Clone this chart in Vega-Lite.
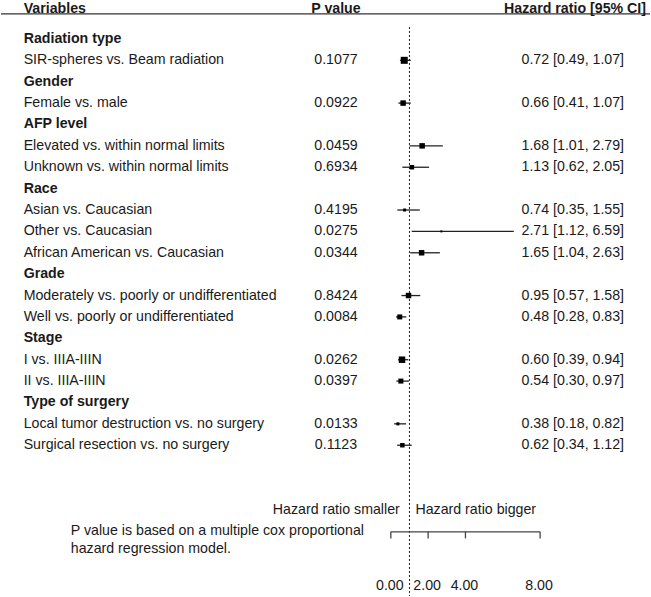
{
  "$schema": "https://vega.github.io/schema/vega-lite/v6.json",
  "width": 651,
  "height": 597,
  "autosize": {"type": "fit", "contains": "padding"},
  "padding": 0,
  "background": "white",
  "config": {
    "view": {"stroke": null},
    "text": {"font": "Liberation Sans", "fontSize": 14.2, "color": "#1a1a1a", "baseline": "middle"}
  },
  "datasets": {
    "rows": [
      {"row": 1, "kind": "group", "label": "Radiation type"},
      {"row": 2, "kind": "item", "label": "SIR-spheres vs. Beam radiation", "p": "0.1077", "hr": 0.72, "lo": 0.49, "hi": 1.07, "ci": "0.72 [0.49, 1.07]", "weight": 49},
      {"row": 3, "kind": "group", "label": "Gender"},
      {"row": 4, "kind": "item", "label": "Female vs. male", "p": "0.0922", "hr": 0.66, "lo": 0.41, "hi": 1.07, "ci": "0.66 [0.41, 1.07]", "weight": 30},
      {"row": 5, "kind": "group", "label": "AFP level"},
      {"row": 6, "kind": "item", "label": "Elevated vs. within normal limits", "p": "0.0459", "hr": 1.68, "lo": 1.01, "hi": 2.79, "ci": "1.68 [1.01, 2.79]", "weight": 30},
      {"row": 7, "kind": "item", "label": "Unknown vs. within normal limits", "p": "0.6934", "hr": 1.13, "lo": 0.62, "hi": 2.05, "ci": "1.13 [0.62, 2.05]", "weight": 20},
      {"row": 8, "kind": "group", "label": "Race"},
      {"row": 9, "kind": "item", "label": "Asian vs. Caucasian", "p": "0.4195", "hr": 0.74, "lo": 0.35, "hi": 1.55, "ci": "0.74 [0.35, 1.55]", "weight": 9},
      {"row": 10, "kind": "item", "label": "Other vs. Caucasian", "p": "0.0275", "hr": 2.71, "lo": 1.12, "hi": 6.59, "ci": "2.71 [1.12, 6.59]", "weight": 4},
      {"row": 11, "kind": "item", "label": "African American vs. Caucasian", "p": "0.0344", "hr": 1.65, "lo": 1.04, "hi": 2.63, "ci": "1.65 [1.04, 2.63]", "weight": 30},
      {"row": 12, "kind": "group", "label": "Grade"},
      {"row": 13, "kind": "item", "label": "Moderately vs. poorly or undifferentiated", "p": "0.8424", "hr": 0.95, "lo": 0.57, "hi": 1.58, "ci": "0.95 [0.57, 1.58]", "weight": 30},
      {"row": 14, "kind": "item", "label": "Well vs. poorly or undifferentiated", "p": "0.0084", "hr": 0.48, "lo": 0.28, "hi": 0.83, "ci": "0.48 [0.28, 0.83]", "weight": 25},
      {"row": 15, "kind": "group", "label": "Stage"},
      {"row": 16, "kind": "item", "label": "I vs. IIIA-IIIN", "p": "0.0262", "hr": 0.60, "lo": 0.39, "hi": 0.94, "ci": "0.60 [0.39, 0.94]", "weight": 42},
      {"row": 17, "kind": "item", "label": "II vs. IIIA-IIIN", "p": "0.0397", "hr": 0.54, "lo": 0.30, "hi": 0.97, "ci": "0.54 [0.30, 0.97]", "weight": 25},
      {"row": 18, "kind": "group", "label": "Type of surgery"},
      {"row": 19, "kind": "item", "label": "Local tumor destruction vs. no surgery", "p": "0.0133", "hr": 0.38, "lo": 0.18, "hi": 0.82, "ci": "0.38 [0.18, 0.82]", "weight": 9},
      {"row": 20, "kind": "item", "label": "Surgical resection vs. no surgery", "p": "0.1123", "hr": 0.62, "lo": 0.34, "hi": 1.12, "ci": "0.62 [0.34, 1.12]", "weight": 20}
    ],
    "ticks": [
      {"tick": 0, "label": "0.00"},
      {"tick": 2, "label": "2.00"},
      {"tick": 4, "label": "4.00"},
      {"tick": 8, "label": "8.00"}
    ],
    "one": [{}]
  },
  "data": {"name": "rows"},
  "layer": [
    {
      "data": {"name": "one"},
      "mark": {"type": "rule", "stroke": "#333333", "strokeWidth": 1.2},
      "encoding": {
        "x": {"datum": -20.887, "type": "quantitative", "scale": {"domain": [-20.887, 13.889], "nice": false, "zero": false}, "axis": null},
        "x2": {"datum": 13.889},
        "y": {"datum": -0.17, "type": "quantitative", "scale": {"domain": [-0.8207, 27.05], "reverse": true, "nice": false, "zero": false}, "axis": null}
      }
    },
    {
      "data": {"name": "one"},
      "mark": {"type": "rule", "stroke": "#1a1a1a", "strokeWidth": 1, "strokeDash": [2, 2]},
      "encoding": {
        "x": {"datum": 1, "type": "quantitative", "scale": {"domain": [-20.887, 13.889], "nice": false, "zero": false}, "axis": null},
        "y": {"datum": 0.44, "type": "quantitative", "scale": {"domain": [-0.8207, 27.05], "reverse": true, "nice": false, "zero": false}, "axis": null},
        "y2": {"datum": 27.05}
      }
    },
    {
      "transform": [{"filter": "datum.kind === 'item'"}],
      "mark": {"type": "rule", "stroke": "#222222", "strokeWidth": 1.3},
      "encoding": {
        "x": {"field": "lo", "type": "quantitative", "scale": {"domain": [-20.887, 13.889], "nice": false, "zero": false}, "axis": null},
        "x2": {"field": "hi"},
        "y": {"field": "row", "type": "quantitative", "scale": {"domain": [-0.8207, 27.05], "reverse": true, "nice": false, "zero": false}, "axis": null}
      }
    },
    {
      "transform": [{"filter": "datum.kind === 'item'"}],
      "mark": {"type": "square", "filled": true, "color": "#000000", "opacity": 1},
      "encoding": {
        "x": {"field": "hr", "type": "quantitative", "scale": {"domain": [-20.887, 13.889], "nice": false, "zero": false}, "axis": null},
        "y": {"field": "row", "type": "quantitative", "scale": {"domain": [-0.8207, 27.05], "reverse": true, "nice": false, "zero": false}, "axis": null},
        "size": {"field": "weight", "type": "quantitative", "scale": {"domain": [0, 50], "range": [0, 50], "zero": true}, "legend": null}
      }
    },
    {
      "transform": [{"filter": "datum.kind === 'group'"}],
      "mark": {"type": "text", "align": "left", "fontWeight": "bold"},
      "encoding": {
        "x": {"datum": -19.674, "type": "quantitative", "scale": {"domain": [-20.887, 13.889], "nice": false, "zero": false}, "axis": null},
        "y": {"field": "row", "type": "quantitative", "scale": {"domain": [-0.8207, 27.05], "reverse": true, "nice": false, "zero": false}, "axis": null},
        "text": {"field": "label"}
      }
    },
    {
      "transform": [{"filter": "datum.kind === 'item'"}],
      "mark": {"type": "text", "align": "left"},
      "encoding": {
        "x": {"datum": -19.674, "type": "quantitative", "scale": {"domain": [-20.887, 13.889], "nice": false, "zero": false}, "axis": null},
        "y": {"field": "row", "type": "quantitative", "scale": {"domain": [-0.8207, 27.05], "reverse": true, "nice": false, "zero": false}, "axis": null},
        "text": {"field": "label"}
      }
    },
    {
      "transform": [{"filter": "datum.kind === 'item'"}],
      "mark": {"type": "text", "align": "center"},
      "encoding": {
        "x": {"datum": -2.938, "type": "quantitative", "scale": {"domain": [-20.887, 13.889], "nice": false, "zero": false}, "axis": null},
        "y": {"field": "row", "type": "quantitative", "scale": {"domain": [-0.8207, 27.05], "reverse": true, "nice": false, "zero": false}, "axis": null},
        "text": {"field": "p"}
      }
    },
    {
      "transform": [{"filter": "datum.kind === 'item'"}],
      "mark": {"type": "text", "align": "right"},
      "encoding": {
        "x": {"datum": 12.5, "type": "quantitative", "scale": {"domain": [-20.887, 13.889], "nice": false, "zero": false}, "axis": null},
        "y": {"field": "row", "type": "quantitative", "scale": {"domain": [-0.8207, 27.05], "reverse": true, "nice": false, "zero": false}, "axis": null},
        "text": {"field": "ci"}
      }
    },
    {
      "data": {"name": "one"},
      "mark": {"type": "text", "align": "left", "fontWeight": "bold"},
      "encoding": {
        "x": {"datum": -19.674, "type": "quantitative", "scale": {"domain": [-20.887, 13.889], "nice": false, "zero": false}, "axis": null},
        "y": {"datum": -0.4, "type": "quantitative", "scale": {"domain": [-0.8207, 27.05], "reverse": true, "nice": false, "zero": false}, "axis": null},
        "text": {"value": "Variables"}
      }
    },
    {
      "data": {"name": "one"},
      "mark": {"type": "text", "align": "center", "fontWeight": "bold"},
      "encoding": {
        "x": {"datum": -2.938, "type": "quantitative", "scale": {"domain": [-20.887, 13.889], "nice": false, "zero": false}, "axis": null},
        "y": {"datum": -0.4, "type": "quantitative", "scale": {"domain": [-0.8207, 27.05], "reverse": true, "nice": false, "zero": false}, "axis": null},
        "text": {"value": "P value"}
      }
    },
    {
      "data": {"name": "one"},
      "mark": {"type": "text", "align": "right", "fontWeight": "bold"},
      "encoding": {
        "x": {"datum": 13.675, "type": "quantitative", "scale": {"domain": [-20.887, 13.889], "nice": false, "zero": false}, "axis": null},
        "y": {"datum": -0.4, "type": "quantitative", "scale": {"domain": [-0.8207, 27.05], "reverse": true, "nice": false, "zero": false}, "axis": null},
        "text": {"value": "Hazard ratio [95% CI]"}
      }
    },
    {
      "data": {"name": "one"},
      "mark": {"type": "text", "align": "right"},
      "encoding": {
        "x": {"datum": 0.481, "type": "quantitative", "scale": {"domain": [-20.887, 13.889], "nice": false, "zero": false}, "axis": null},
        "y": {"datum": 23.02, "type": "quantitative", "scale": {"domain": [-0.8207, 27.05], "reverse": true, "nice": false, "zero": false}, "axis": null},
        "text": {"value": "Hazard ratio smaller"}
      }
    },
    {
      "data": {"name": "one"},
      "mark": {"type": "text", "align": "left"},
      "encoding": {
        "x": {"datum": 1.319, "type": "quantitative", "scale": {"domain": [-20.887, 13.889], "nice": false, "zero": false}, "axis": null},
        "y": {"datum": 23.02, "type": "quantitative", "scale": {"domain": [-0.8207, 27.05], "reverse": true, "nice": false, "zero": false}, "axis": null},
        "text": {"value": "Hazard ratio bigger"}
      }
    },
    {
      "data": {"name": "one"},
      "mark": {"type": "text", "align": "left"},
      "encoding": {
        "x": {"datum": -17.147, "type": "quantitative", "scale": {"domain": [-20.887, 13.889], "nice": false, "zero": false}, "axis": null},
        "y": {"datum": 24.0, "type": "quantitative", "scale": {"domain": [-0.8207, 27.05], "reverse": true, "nice": false, "zero": false}, "axis": null},
        "text": {"value": "P value is based on a multiple cox proportional"}
      }
    },
    {
      "data": {"name": "one"},
      "mark": {"type": "text", "align": "left"},
      "encoding": {
        "x": {"datum": -17.147, "type": "quantitative", "scale": {"domain": [-20.887, 13.889], "nice": false, "zero": false}, "axis": null},
        "y": {"datum": 24.86, "type": "quantitative", "scale": {"domain": [-0.8207, 27.05], "reverse": true, "nice": false, "zero": false}, "axis": null},
        "text": {"value": "hazard regression model."}
      }
    },
    {
      "data": {"name": "one"},
      "mark": {"type": "rule", "stroke": "#444444", "strokeWidth": 1.3},
      "encoding": {
        "x": {"datum": 0, "type": "quantitative", "scale": {"domain": [-20.887, 13.889], "nice": false, "zero": false}, "axis": null},
        "x2": {"datum": 8},
        "y": {"datum": 24.05, "type": "quantitative", "scale": {"domain": [-0.8207, 27.05], "reverse": true, "nice": false, "zero": false}, "axis": null}
      }
    },
    {
      "data": {"name": "ticks"},
      "mark": {"type": "rule", "stroke": "#444444", "strokeWidth": 1.3},
      "encoding": {
        "x": {"field": "tick", "type": "quantitative", "scale": {"domain": [-20.887, 13.889], "nice": false, "zero": false}, "axis": null},
        "y": {"datum": 24.05, "type": "quantitative", "scale": {"domain": [-0.8207, 27.05], "reverse": true, "nice": false, "zero": false}, "axis": null},
        "y2": {"datum": 24.356}
      }
    },
    {
      "data": {"name": "ticks"},
      "mark": {"type": "text", "align": "center", "dx": -1},
      "encoding": {
        "x": {"field": "tick", "type": "quantitative", "scale": {"domain": [-20.887, 13.889], "nice": false, "zero": false}, "axis": null},
        "y": {"datum": 26.57, "type": "quantitative", "scale": {"domain": [-0.8207, 27.05], "reverse": true, "nice": false, "zero": false}, "axis": null},
        "text": {"field": "label"}
      }
    }
  ]
}
